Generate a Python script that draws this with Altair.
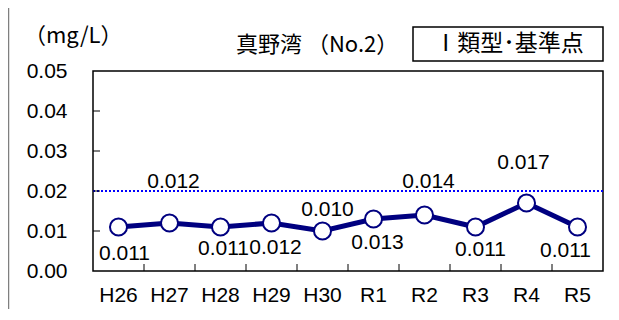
import altair as alt
import pandas as pd

# ---- data ----
categories = ["H26", "H27", "H28", "H29", "H30", "R1", "R2", "R3", "R4", "R5"]
values = [0.011, 0.012, 0.011, 0.012, 0.010, 0.013, 0.014, 0.011, 0.017, 0.011]
label_texts = ["0.011", "0.012", "0.011", "0.012", "0.010", "0.013", "0.014", "0.011", "0.017", "0.011"]
y_ticks = [0.00, 0.01, 0.02, 0.03, 0.04, 0.05]
standard_value = [0.02]
unit_text = "（mg/L）"
title_text = "真野湾 （No.2）"
badge_text = "Ⅰ類型･基準点"

# ---- style: label offsets (dx, dy) relative to each point ----
label_offsets = {
    "H26": (6, 27), "H27": (4, -41), "H28": (3, 22), "H29": (4, 25), "H30": (5, -21),
    "R1": (4, 24), "R2": (4, -33), "R3": (5, 23), "R4": (-3, -40), "R5": (-12, 24),
}

NAVY = "#000080"
FONT = "Liberation Sans"
CJK = "Noto Sans CJK JP"

df = pd.DataFrame({"cat": categories, "val": values, "lab": label_texts})
tick_df = pd.DataFrame({"cat": categories[1:]})
ytick_df = pd.DataFrame({"v": y_ticks[1:-1]})
std_df = pd.DataFrame({"v": standard_value})

xscale = alt.Scale(type="band", domain=categories, paddingInner=0, paddingOuter=0)
yscale = alt.Scale(domain=[0, 0.05], nice=False, zero=True)

x_axis = alt.Axis(title=None, domain=False, ticks=False, labelAngle=0, labelPadding=13,
                  labelAlign="center", bandPosition=0.5, labelOverlap=False,
                  labelFontSize=21, labelFont=FONT, labelColor="black")
y_axis = alt.Axis(title=None, domain=False, ticks=False, grid=False, values=y_ticks,
                  labelOverlap=False, format=".2f", labelPadding=26, labelFontSize=21,
                  labelFont=FONT, labelColor="black")

X = alt.X("cat:N", scale=xscale, sort=categories, bandPosition=0.5, axis=x_axis)
Y = alt.Y("val:Q", scale=yscale, axis=y_axis)

base = alt.Chart(df)

std_line = alt.Chart(std_df).mark_rule(color="#0000FF", strokeWidth=2, strokeDash=[2, 2]).encode(
    y=alt.Y("v:Q", scale=yscale, axis=y_axis), x=alt.value(0), x2=alt.value(510))

ytick_rules = alt.Chart(ytick_df).mark_rule(color="black", strokeWidth=1).encode(
    y=alt.Y("v:Q", scale=yscale, axis=y_axis), x=alt.value(0), x2=alt.value(7))

xtick_rules = alt.Chart(tick_df).mark_rule(color="black", strokeWidth=1).encode(
    x=alt.X("cat:N", scale=xscale, bandPosition=0, axis=x_axis), y=alt.value(200), y2=alt.value(193))

line = base.mark_line(color=NAVY, strokeWidth=5).encode(x=X, y=Y)
points = base.mark_point(shape="circle", filled=True, fill="white", stroke=NAVY,
                         strokeWidth=2, size=290, opacity=1).encode(x=X, y=Y)

label_layers = []
for c in categories:
    dx, dy = label_offsets[c]
    label_layers.append(
        base.transform_filter(alt.datum.cat == c).mark_text(
            font=FONT, fontSize=21, color="black", align="center", baseline="middle",
            dx=dx, dy=dy).encode(x=X, y=Y, text="lab:N"))

one = lambda s: pd.DataFrame({"t": [s]})

unit = alt.Chart(one(unit_text)).mark_text(font=CJK, fontSize=22, align="left", baseline="middle",
                                           color="black").encode(
    x=alt.value(-69), y=alt.value(-35), text="t:N")
title = alt.Chart(one(title_text)).mark_text(font=CJK, fontSize=22, align="left", baseline="middle",
                                             color="black").encode(
    x=alt.value(143), y=alt.value(-26), text="t:N")
badge_box = alt.Chart(one(badge_text)).mark_rect(fill="white", stroke="black", strokeWidth=1.5).encode(
    x=alt.value(320), x2=alt.value(510), y=alt.value(-44), y2=alt.value(-10))
badge = alt.Chart(one(badge_text)).mark_text(font=CJK, fontSize=23, align="center", baseline="middle",
                                             color="black").encode(
    x=alt.value(416), y=alt.value(-27), text="t:N")
border = alt.Chart(one("b")).mark_rule(color="#7f7f7f", strokeWidth=1.5).encode(
    x=alt.value(-84.5), y=alt.value(-71), y2=alt.value(250))

chart = alt.layer(
    std_line, ytick_rules, xtick_rules, line, points, *label_layers,
    unit, title, badge_box, badge, border
).properties(
    width=510, height=200,
    autosize=alt.AutoSizeParams(type="none"),
    padding={"left": 85, "top": 63, "right": 8, "bottom": 38},
    background="white",
).configure_view(stroke="black", strokeWidth=1.5)

chart.save("out.html", embed_options={"renderer": "svg", "actions": False})
